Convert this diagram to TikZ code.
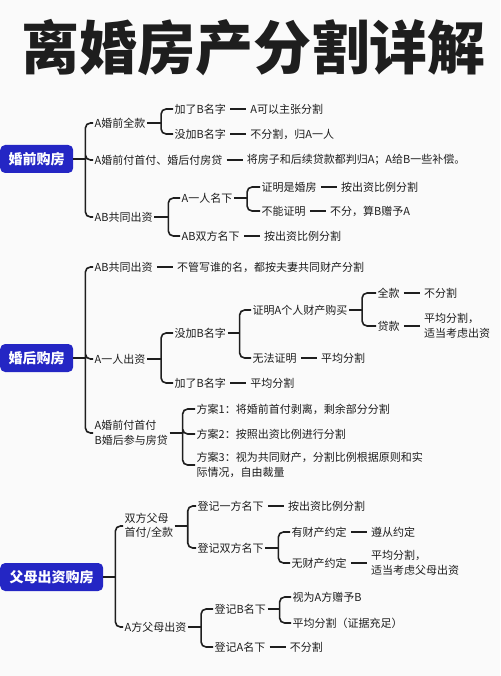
\documentclass[tikz,border=0pt]{standalone}
\usepackage{fontspec}
\newfontfamily\cjk{Noto Sans CJK SC}
\usetikzlibrary{positioning}
\definecolor{ink}{RGB}{30,30,30}
\definecolor{boxblue}{RGB}{36,38,196}
\definecolor{paper}{RGB}{250,250,250}

\begin{document}
\begin{tikzpicture}[x=1pt,y=-1pt,
    leaf/.style={anchor=west,inner sep=1.5pt,align=left,text=ink,font=\cjk\fontsize{11}{14.5}\selectfont},
    sect/.style={anchor=west,fill=boxblue,rounded corners=5pt,text=white,font=\cjk\bfseries\fontsize{14}{16}\selectfont,minimum height=28pt,inner sep=0pt},
    brk/.style={draw=ink,line width=1.6pt,rounded corners=5pt},
    lnk/.style={draw=ink,line width=1.6pt,shorten >=2.5pt,shorten <=2.5pt},
    node distance=21pt]
    \fill[paper] (0,0) rectangle (500,676);
    \useasboundingbox (0,0) rectangle (500,676);
    \node[text=ink,font=\cjk\bfseries\fontsize{58}{62}\selectfont] (title) at (253,48) {离婚房产分割详解};

    % 婚前购房
    \node[sect,minimum width=73pt] (s1) at (0,159) {婚前购房};
    \node[leaf] (a1) at (93,123) {A婚前全款}; \node[leaf] (a2) at (93,160) {A婚前付首付、婚后付房贷}; \node[leaf] (a3) at (93,217) {AB共同出资};
    \node[leaf] (b1) at (173,109) {加了B名字}; \node[leaf] (b2) at (173,134) {没加B名字};
    \node[leaf,right=of b1] (c1) {A可以主张分割}; \node[leaf,right=of b2] (c2) {不分割，归A一人};
    \node[leaf,right=of a2] (c3) {将房子和后续贷款都判归A；A给B一些补偿。};
    \node[leaf] (b3) at (180,198) {A一人名下}; \node[leaf] (b4) at (180,236) {AB双方名下};
    \node[leaf] (d1) at (260,187) {证明是婚房}; \node[leaf] (d2) at (260,211) {不能证明};
    \node[leaf,right=of d1] (e1) {按出资比例分割}; \node[leaf,right=of d2] (e2) {不分，算B赠予A}; \node[leaf,right=of b4] (e3) {按出资比例分割};
    \draw[brk] (s1.east) -- ++(12,0) coordinate (j1); \draw[brk] (j1) |- (a1.west) (j1) |- (a2.west) (j1) |- (a3.west);
    \draw[brk] (a1.east) -- ++(14,0) coordinate (j2); \draw[brk] (j2) |- (b1.west) (j2) |- (b2.west);
    \draw[brk] (a3.east) -- ++(14,0) coordinate (j3); \draw[brk] (j3) |- (b3.west) (j3) |- (b4.west);
    \draw[brk] (b3.east) -- ++(13,0) coordinate (j4); \draw[brk] (j4) |- (d1.west) (j4) |- (d2.west);
    \draw[lnk] (b1) -- (c1); \draw[lnk] (b2) -- (c2); \draw[lnk] (a2) -- (c3); \draw[lnk] (d1) -- (e1); \draw[lnk] (d2) -- (e2); \draw[lnk] (b4) -- (e3);

    % 婚后购房
    \node[sect,minimum width=73pt] (s2) at (0,358) {婚后购房};
    \node[leaf] (f1) at (93,267) {AB共同出资}; \node[leaf] (f2) at (93,359) {A一人出资}; \node[leaf] (f3) at (93,433) {A婚前付首付\\B婚后参与房贷};
    \node[leaf,right=of f1] (g1) {不管写谁的名，都按夫妻共同财产分割};
    \node[leaf] (h1) at (173,333) {没加B名字}; \node[leaf] (h2) at (173,383) {加了B名字};
    \node[leaf] (i1) at (251,310) {证明A个人财产购买}; \node[leaf] (i2) at (251,358) {无法证明};
    \node[leaf] (k1) at (376,293) {全款}; \node[leaf] (k2) at (376,326) {贷款};
    \node[leaf,right=of k1] (l1) {不分割}; \node[leaf,right=of k2] (l2) {平均分割，\\适当考虑出资};
    \node[leaf,right=of i2] (l3) {平均分割}; \node[leaf,right=of h2] (l4) {平均分割};
    \node[leaf] (m1) at (195,409) {方案1：将婚前首付剥离，剩余部分分割}; \node[leaf] (m2) at (195,434) {方案2：按照出资比例进行分割};
    \node[leaf] (m3) at (195,465) {方案3：视为共同财产，分割比例根据原则和实\\际情况，自由裁量};
    \draw[brk] (s2.east) -- ++(12,0) coordinate (j5); \draw[brk] (j5) |- (f1.west) (j5) |- (f2.west) (j5) |- (f3.west);
    \draw[brk] (f2.east) -- ++(14,0) coordinate (j6); \draw[brk] (j6) |- (h1.west) (j6) |- (h2.west);
    \draw[brk] (h1.east) -- ++(12,0) coordinate (j7); \draw[brk] (j7) |- (i1.west) (j7) |- (i2.west);
    \draw[brk] (i1.east) -- ++(13,0) coordinate (j8); \draw[brk] (j8) |- (k1.west) (j8) |- (k2.west);
    \draw[brk] (f3.east) -- ++(13,0) coordinate (j9); \draw[brk] (j9) |- (m1.west) (j9) |- (m2.west) (j9) |- (m3.west);
    \draw[lnk] (f1) -- (g1); \draw[lnk] (k1) -- (l1); \draw[lnk] (k2) -- (l2); \draw[lnk] (i2) -- (l3); \draw[lnk] (h2) -- (l4);

    % 父母出资购房
    \node[sect,minimum width=103pt] (s3) at (0,577) {父母出资购房};
    \node[leaf] (n1) at (123,526) {双方父母\\首付/全款}; \node[leaf] (n2) at (123,627) {A方父母出资};
    \node[leaf] (o1) at (196,506) {登记一方名下}; \node[leaf] (o2) at (196,548) {登记双方名下};
    \node[leaf,right=of o1] (p1) {按出资比例分割};
    \node[leaf] (q1) at (290,532) {有财产约定}; \node[leaf] (q2) at (290,563) {无财产约定};
    \node[leaf,right=of q1] (r1) {遵从约定}; \node[leaf,right=of q2] (r2) {平均分割，\\适当考虑父母出资};
    \node[leaf] (o3) at (213,609) {登记B名下}; \node[leaf] (o4) at (213,647) {登记A名下};
    \node[leaf] (q3) at (291,597) {视为A方赠予B}; \node[leaf] (q4) at (291,623) {平均分割（证据充足）};
    \node[leaf,right=of o4] (p2) {不分割};
    \draw[brk] (s3.east) -- ++(12,0) coordinate (j10); \draw[brk] (j10) |- (n1.west) (j10) |- (n2.west);
    \draw[brk] (n1.east) -- ++(13,0) coordinate (j11); \draw[brk] (j11) |- (o1.west) (j11) |- (o2.west);
    \draw[brk] (o2.east) -- ++(13,0) coordinate (j12); \draw[brk] (j12) |- (q1.west) (j12) |- (q2.west);
    \draw[brk] (n2.east) -- ++(13,0) coordinate (j13); \draw[brk] (j13) |- (o3.west) (j13) |- (o4.west);
    \draw[brk] (o3.east) -- ++(12,0) coordinate (j14); \draw[brk] (j14) |- (q3.west) (j14) |- (q4.west);
    \draw[lnk] (o1) -- (p1); \draw[lnk] (q1) -- (r1); \draw[lnk] (q2) -- (r2); \draw[lnk] (o4) -- (p2);
\end{tikzpicture}
\end{document}
